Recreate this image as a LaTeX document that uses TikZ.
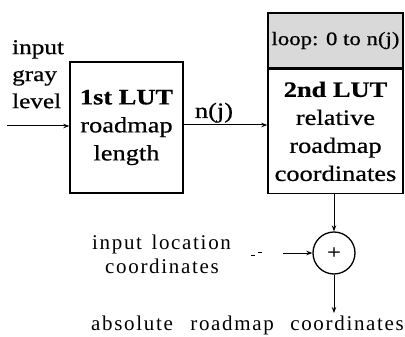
\documentclass[tikz,border=0pt]{standalone}
\usepackage{fontspec}
\setmainfont{Liberation Serif}[FakeStretch=1.2, FakeBold=0.6]
\newfontfamily\spacedfont{Liberation Serif}[LetterSpace=8]
\usetikzlibrary{arrows.meta}

\begin{document}
\begin{tikzpicture}[x=1pt,y=-1pt,
  blk/.style={draw, line width=1.4pt, inner sep=0pt, align=center,
              font=\fontsize{22}{28}\selectfont},
  conn/.style={line width=1pt, -{Stealth[length=6pt,width=4.5pt]}},
  sidetext/.style={inner sep=0pt, align=left, font=\fontsize{21}{27}\selectfont},
  lowtext/.style={inner sep=0pt, anchor=base west, font=\spacedfont\fontsize{21}{24}\selectfont},
]
\useasboundingbox (0,0) rectangle (405,337);

% first table
\node[blk, minimum width=113pt, minimum height=131pt] (lut1) at (126.5,127.5)
  {\textbf{1st LUT}\\roadmap\\length};

% second table with its loop header
\node[blk, fill=black!15, minimum width=135pt, minimum height=55pt,
      font=\fontsize{19}{22}\selectfont] (loop) at (335.5,40.5) {loop: 0 to n(j)};
\node[blk, minimum width=135pt, minimum height=124pt, anchor=north] (lut2) at (loop.south)
  {\textbf{2nd LUT}\\relative\\roadmap\\coordinates};

% adder
\node[draw, line width=1.3pt, circle, minimum size=42pt, inner sep=0pt,
      font=\fontsize{20}{20}\selectfont] (sum) at (334,253) {+};

% labels
\node[sidetext, anchor=north west] (gray) at (12,40) {input\\gray\\level};
\node[inner sep=0pt, anchor=base, font=\fontsize{22}{22}\selectfont] (nj) at (214,118) {n(j)};
\node[lowtext] (loc1) at (92,249) {input\hspace{0.45em}location};
\node[lowtext] (loc2) at (105,273) {coordinates};
\node[lowtext] (abs) at (91,330) {absolute\hspace{0.5em} roadmap\hspace{0.45em} coordinates};

% connectors
\coordinate (grayin) at (7,126);
\coordinate (locin) at (283,253);
\coordinate (absout) at (334,313);
\draw[conn] (grayin) -- (grayin -| lut1.west);
\draw[conn] (lut1.east |- 0,125) -- (lut2.west |- 0,125);
\draw[conn] (lut2.south -| sum.north) -- (sum.north);
\draw[conn] (locin) -- (sum.west);
\draw[conn] (sum.south) -- (absout);
% broken stub of the location line
\draw[line width=0.8pt] (251,255) -- (255,255) (258,252) -- (262,252);
\end{tikzpicture}
\end{document}
